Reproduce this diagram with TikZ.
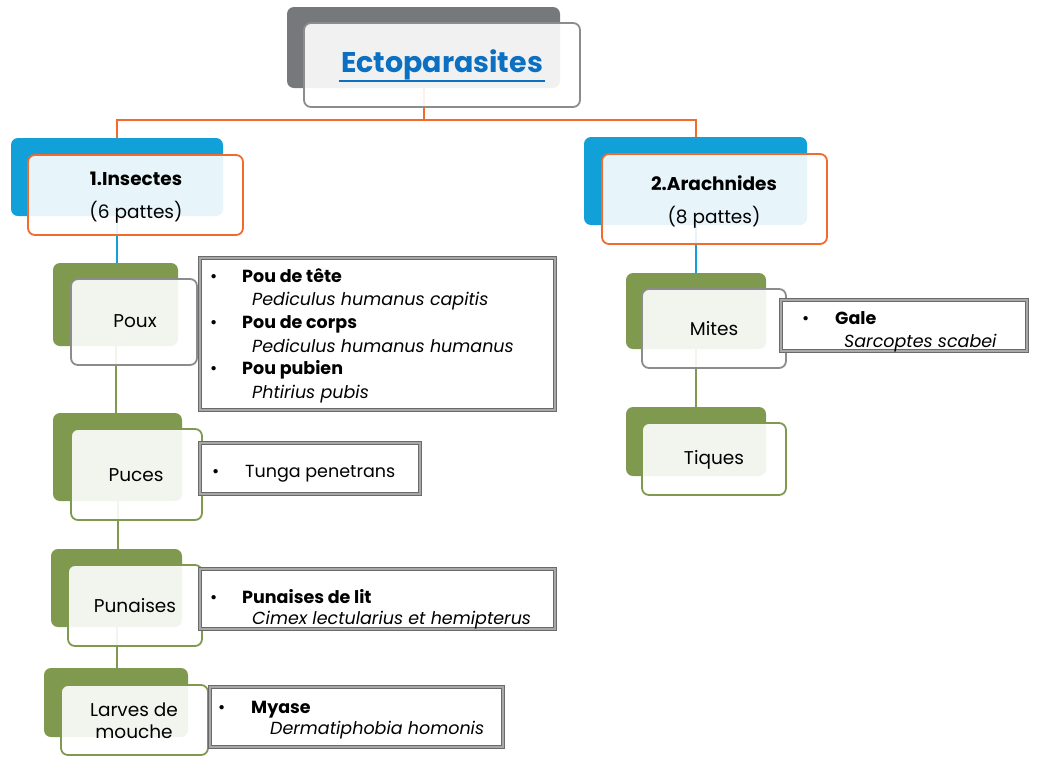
\documentclass[tikz,border=0pt]{standalone}
\usepackage{fontspec}
\setmainfont{Poppins}
\usetikzlibrary{shadows}
\definecolor{darkback}{HTML}{77787B}
\definecolor{blueback}{HTML}{11A0D8}
\definecolor{greenback}{HTML}{7F9A4F}
\definecolor{orangeline}{HTML}{F26B2D}
\definecolor{grayline}{HTML}{8C8C8C}
\definecolor{titleblue}{HTML}{0B6FC2}
\definecolor{boxgray}{HTML}{6A6A6A}
\definecolor{boxlight}{HTML}{A8A8A8}
\begin{document}
\begin{tikzpicture}[x=1pt,y=-1pt,
  back/.style={rectangle, rounded corners=7pt, inner sep=0pt, draw=none},
  front/.style={rectangle, rounded corners=7pt, fill=white, fill opacity=0.9, line width=1.8pt, inner sep=0pt},
  lbl/.style={anchor=base, inner sep=0pt, font=\fontsize{18.5}{22}\selectfont},
  listbox/.style={rectangle, fill=white, draw=boxgray, double=boxlight, double distance=1.2pt, line width=1.3pt, inner sep=0pt,
    drop shadow={opacity=0.2, shadow xshift=1.5pt, shadow yshift=-1.5pt}},
  listtxt/.style={anchor=base west, inner sep=0pt, font=\fontsize{17.5}{20}\selectfont},
  conn/.style={line width=2pt}
]
\useasboundingbox (0,0) rectangle (1040,774);
\fill[white] (0,0) rectangle (1040,774);

% back rectangles
\node[back, fill=darkback, minimum width=273pt, minimum height=81pt] (tback) at (423.5,47.5) {};
\node[back, fill=blueback, minimum width=212pt, minimum height=78pt] (iback) at (117,177) {};
\node[back, fill=blueback, minimum width=223pt, minimum height=88pt] (aback) at (695.5,181) {};
\node[back, fill=greenback, minimum width=125pt, minimum height=83pt] (pxback) at (115.5,304.5) {};
\node[back, fill=greenback, minimum width=129pt, minimum height=88pt] (puback) at (117.5,457) {};
\node[back, fill=greenback, minimum width=131pt, minimum height=78pt] (pnback) at (116.5,588) {};
\node[back, fill=greenback, minimum width=144pt, minimum height=69pt] (lvback) at (116,702.5) {};
\node[back, fill=greenback, minimum width=140pt, minimum height=76pt] (miback) at (696,311) {};
\node[back, fill=greenback, minimum width=140pt, minimum height=69pt] (tqback) at (696,441.5) {};

% connectors
\draw[conn, orangeline] (tback.south) -- ++(0,32) coordinate (hub) -| (iback.north);
\draw[conn, orangeline] (hub) -| (aback.north);
\draw[conn, blueback] (iback.south) -- (iback.south |- pxback.north);
\draw[conn, blueback] (aback.south) -- (aback.south |- miback.north);
\draw[conn, greenback] (pxback.south) -- (pxback.south |- puback.north);
\draw[conn, greenback] (puback.south) -- (puback.south |- pnback.north);
\draw[conn, greenback] (pnback.south) -- (pnback.south |- lvback.north);
\draw[conn, greenback] (miback.south) -- (miback.south |- tqback.north);

% front rectangles
\node[front, draw=grayline, minimum width=276pt, minimum height=84pt] (tfront) at (442,65) {};
\node[front, draw=orangeline, minimum width=215pt, minimum height=80pt] (ifront) at (135.5,195) {};
\node[front, draw=orangeline, minimum width=225pt, minimum height=90pt] (afront) at (714.5,199) {};
\node[front, draw=grayline, minimum width=126pt, minimum height=86pt] (pxfront) at (134,322) {};
\node[front, draw=greenback, minimum width=131pt, minimum height=91pt] (pufront) at (136.5,474.5) {};
\node[front, draw=greenback, minimum width=134pt, minimum height=81pt] (pnfront) at (135,605.5) {};
\node[front, draw=greenback, minimum width=147pt, minimum height=70pt] (lvfront) at (134.5,720) {};
\node[front, draw=grayline, minimum width=144pt, minimum height=79pt] (mifront) at (714,328.5) {};
\node[front, draw=greenback, minimum width=144pt, minimum height=72pt] (tqfront) at (714,459) {};

% labels
\node[anchor=base, inner sep=0pt, text=titleblue, font=\bfseries\fontsize{28.5}{32}\selectfont] (ttxt) at (442,72) {Ectoparasites};
\draw[titleblue, line width=2pt] ([xshift=-2pt,yshift=-8.5pt]ttxt.base west) -- ([xshift=2pt,yshift=-8.5pt]ttxt.base east);
\node[lbl, font=\bfseries\fontsize{18.5}{22}\selectfont] (itxt1) at (136,185) {1.Insectes};
\node[lbl] (itxt2) at (136,218) {(6 pattes)};
\node[lbl, font=\bfseries\fontsize{18.5}{22}\selectfont] (atxt1) at (714,190) {2.Arachnides};
\node[lbl] (atxt2) at (714,223) {(8 pattes)};
\node[lbl] (pxtxt) at (135,327) {Poux};
\node[lbl] (putxt) at (136,481) {Puces};
\node[lbl] (pntxt) at (135,612) {Punaises};
\node[lbl] (lvtxt1) at (134,716) {Larves de};
\node[lbl] (lvtxt2) at (134,738) {mouche};
\node[lbl] (mitxt) at (714,335) {Mites};
\node[lbl] (tqtxt) at (714,464) {Tiques};

% list boxes
\node[listbox, minimum width=355pt, minimum height=152pt] (pxlist) at (377.5,334) {};
\node[listbox, minimum width=220pt, minimum height=51pt] (pulist) at (310,468.5) {};
\node[listbox, minimum width=355pt, minimum height=60pt] (pnlist) at (377.5,599) {};
\node[listbox, minimum width=293pt, minimum height=60pt] (lvlist) at (356.5,717) {};
\node[listbox, minimum width=246pt, minimum height=51pt] (milist) at (904,325.5) {};

% list texts
\node[listtxt] (b1) at (210,282) {•};
\node[listtxt, font=\bfseries\fontsize{17.5}{20}\selectfont] (l1) at (242,282) {Pou de tête};
\node[listtxt, font=\itshape\fontsize{17.5}{20}\selectfont] (l2) at (252,305) {Pediculus humanus capitis};
\node[listtxt] (b2) at (210,328) {•};
\node[listtxt, font=\bfseries\fontsize{17.5}{20}\selectfont] (l3) at (242,328) {Pou de corps};
\node[listtxt, font=\itshape\fontsize{17.5}{20}\selectfont] (l4) at (252,352) {Pediculus humanus humanus};
\node[listtxt] (b3) at (210,374) {•};
\node[listtxt, font=\bfseries\fontsize{17.5}{20}\selectfont] (l5) at (242,374) {Pou pubien};
\node[listtxt, font=\itshape\fontsize{17.5}{20}\selectfont] (l6) at (252,398) {Phtirius pubis};

\node[listtxt] (b4) at (212,477) {•};
\node[listtxt] (l7) at (245,477) {Tunga penetrans};

\node[listtxt] (b5) at (210,603) {•};
\node[listtxt, font=\bfseries\fontsize{17.5}{20}\selectfont] (l8) at (242,603) {Punaises de lit};
\node[listtxt, font=\itshape\fontsize{17.5}{20}\selectfont] (l9) at (252,624) {Cimex lectularius et hemipterus};

\node[listtxt] (b6) at (218,713) {•};
\node[listtxt, font=\bfseries\fontsize{17.5}{20}\selectfont] (l10) at (251,713) {Myase};
\node[listtxt, font=\itshape\fontsize{17.5}{20}\selectfont] (l11) at (270,734) {Dermatiphobia homonis};

\node[listtxt] (b7) at (802,324) {•};
\node[listtxt, font=\bfseries\fontsize{17.5}{20}\selectfont] (l12) at (835,324) {Gale};
\node[listtxt, font=\itshape\fontsize{17.5}{20}\selectfont] (l13) at (844,347) {Sarcoptes scabei};
\end{tikzpicture}
\end{document}
